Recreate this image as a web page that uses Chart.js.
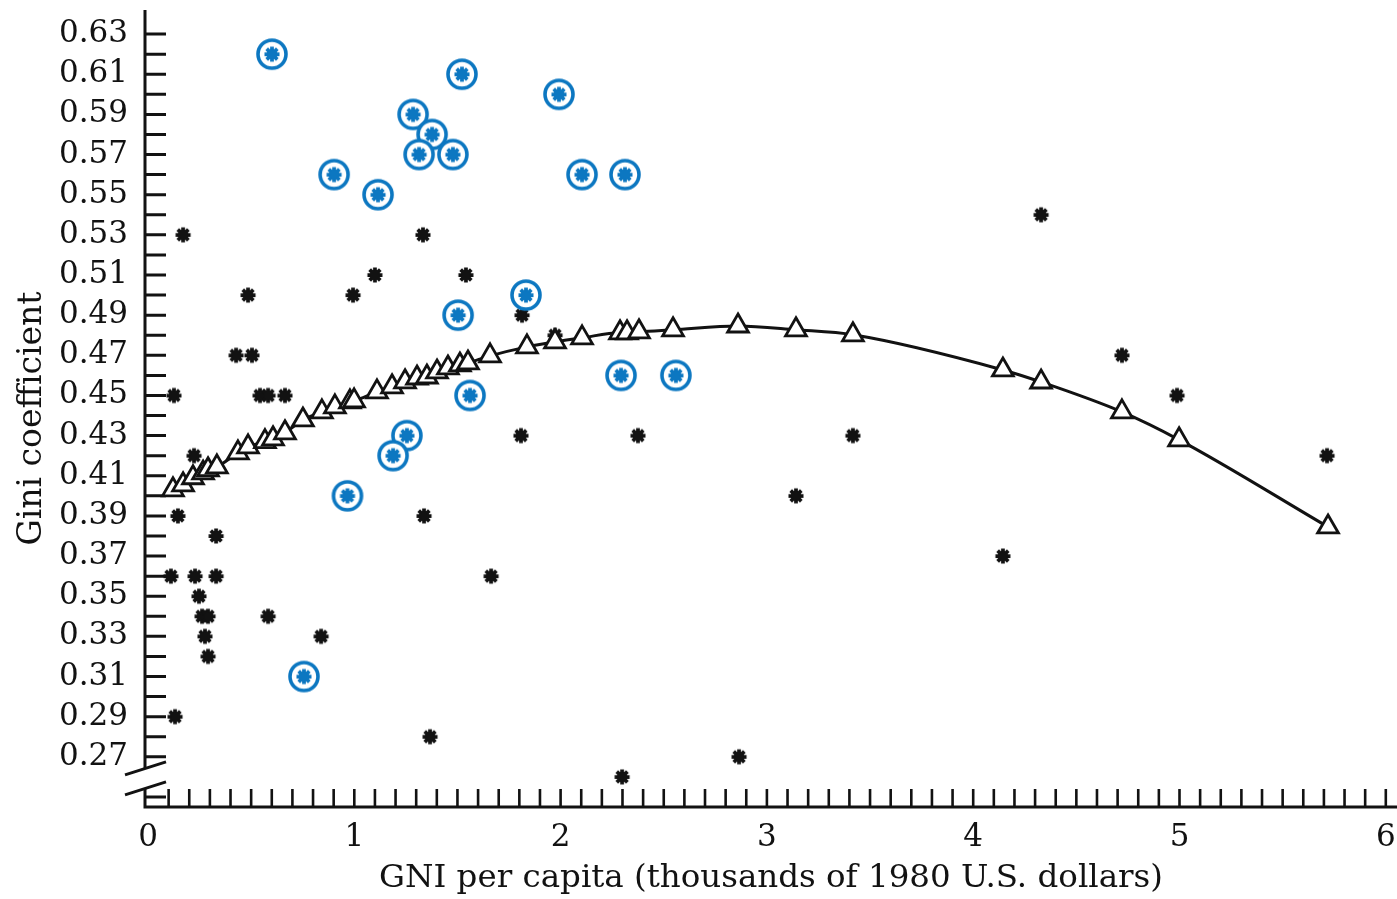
<!DOCTYPE html>
<html>
<head>
<meta charset="utf-8">
<title>Gini coefficient and GNI per capita</title>
<script src="https://cdn.jsdelivr.net/npm/chart.js@4.4.1/dist/chart.umd.min.js"></script>
<style>
  html, body { margin: 0; padding: 0; background: #fff; }
</style>
</head>
<body>
<canvas id="chart" width="1397" height="899"></canvas>
<script>
/* ================= DATA ================= */
// countries, plain markers
const starGni = [0.17, 0.126, 0.223, 0.145, 0.111, 0.228, 0.33, 0.33, 0.247, 0.262, 0.291, 0.276, 0.291, 0.131,
  0.582, 0.839, 0.427, 0.504, 0.485, 0.543, 0.582, 0.664, 0.994, 1.10, 1.333, 1.541, 1.338, 1.663, 1.367,
  1.808, 1.813, 1.973, 2.375, 2.298, 2.865, 3.141, 3.417, 4.144, 4.329, 4.721, 4.988, 5.715];
const starGini = [0.53, 0.45, 0.42, 0.39, 0.36, 0.36, 0.36, 0.38, 0.35, 0.34, 0.34, 0.33, 0.32, 0.29,
  0.34, 0.33, 0.47, 0.47, 0.50, 0.45, 0.45, 0.45, 0.50, 0.51, 0.53, 0.51, 0.39, 0.36, 0.28,
  0.43, 0.49, 0.48, 0.43, 0.26, 0.27, 0.40, 0.43, 0.37, 0.54, 0.47, 0.45, 0.42];

// countries, circled markers
const ringGni = [0.601, 1.522, 1.992, 1.285, 1.377, 1.314, 1.478, 0.902, 1.115, 2.104, 2.312,
  1.832, 1.503, 2.293, 2.559, 1.561, 1.255, 1.188, 0.967, 0.756];
const ringGini = [0.62, 0.61, 0.60, 0.59, 0.58, 0.57, 0.57, 0.56, 0.55, 0.56, 0.56,
  0.50, 0.49, 0.46, 0.46, 0.45, 0.43, 0.42, 0.40, 0.31];

// fitted values (triangles + curve)
const fitGni = [0.121, 0.170, 0.218, 0.267, 0.291, 0.334, 0.436, 0.485, 0.567, 0.606, 0.664, 0.751, 0.843,
  0.906, 0.979, 0.999, 1.110, 1.183, 1.246, 1.304, 1.352, 1.401, 1.454, 1.512, 1.551, 1.658, 1.837,
  1.973, 2.104, 2.288, 2.322, 2.380, 2.545, 2.860, 3.141, 3.417, 4.144, 4.329, 4.721, 4.998, 5.720];
const fitGini = [0.403, 0.4055, 0.409, 0.4114, 0.413, 0.4144, 0.4214, 0.4244, 0.427, 0.4284, 0.4314, 0.4378, 0.4418,
  0.4443, 0.4468, 0.4473, 0.4518, 0.4543, 0.4568, 0.4587, 0.4592, 0.4617, 0.4637, 0.4652, 0.4662, 0.4697, 0.4742,
  0.4767, 0.4787, 0.4812, 0.4812, 0.4817, 0.4827, 0.4846, 0.4827, 0.4802, 0.4627, 0.4567, 0.4418, 0.4279, 0.3845];

// tick labels
const xTickLabels = ['0', '1', '2', '3', '4', '5', '6'];
const yTickLabels = ['0.27', '0.29', '0.31', '0.33', '0.35', '0.37', '0.39', '0.41', '0.43', '0.45',
  '0.47', '0.49', '0.51', '0.53', '0.55', '0.57', '0.59', '0.61', '0.63'];

const yTitle = 'Gini coefficient';
const xTitle = 'GNI per capita (thousands of 1980 U.S. dollars)';

const BLUE = '#0c77c1';
const INK = '#121212';
const FONT = "'DejaVu Serif', 'Liberation Serif', serif";

function pairs(xs, ys){
    return xs.map((x, i) => ({ x: x, y: ys[i] }));
}

/* ================= MARKERS ================= */
function drawStar(ctx, cx, cy, r, color){
    ctx.strokeStyle = color;
    ctx.fillStyle = color;
    ctx.lineWidth = r * 0.5;
    ctx.beginPath();
    for(let k = 0; k < 4; k++){
        let a = k * Math.PI / 4;
        ctx.moveTo(cx - Math.cos(a) * r, cy - Math.sin(a) * r);
        ctx.lineTo(cx + Math.cos(a) * r, cy + Math.sin(a) * r);
    }
    ctx.stroke();
    ctx.beginPath();
    ctx.arc(cx, cy, r * 0.68, 0, Math.PI * 2);
    ctx.fill();
}

function starMarker(){
    let c = document.createElement('canvas');
    c.width = 18; c.height = 18;
    drawStar(c.getContext('2d'), 9, 9, 7.5, INK);
    return c;
}

function ringMarker(){
    let c = document.createElement('canvas');
    c.width = 36; c.height = 36;
    let ctx = c.getContext('2d');
    ctx.beginPath();
    ctx.arc(18, 18, 14, 0, Math.PI * 2);
    ctx.fillStyle = '#fff';
    ctx.fill();
    ctx.lineWidth = 3.6;
    ctx.strokeStyle = BLUE;
    ctx.stroke();
    drawStar(ctx, 18, 18, 7.5, BLUE);
    return c;
}

/* ================= AXES (inward ticks + break + y title) ================= */
const bookAxes = {
    id: 'bookAxes',
    beforeDatasetsDraw(chart){
        const ctx = chart.ctx;
        const xs = chart.scales.x, ys = chart.scales.y;
        const x0 = xs.left;
        const yb = ys.bottom;

        ctx.save();
        ctx.strokeStyle = INK;
        ctx.lineWidth = 3;
        ctx.beginPath();
        ctx.moveTo(x0, ys.top);
        ctx.lineTo(x0, yb);
        ctx.moveTo(x0 - 1.5, yb);
        ctx.lineTo(chart.width, yb);

        // y ticks every 0.01 (0.26 sits in the break)
        for(let v = 25; v <= 63; v++){
            if(v === 26) continue;
            let y = ys.getPixelForValue(v / 100);
            ctx.moveTo(x0, y);
            ctx.lineTo(x0 + 21, y);
        }
        ctx.stroke();

        // x ticks every 0.1
        ctx.lineWidth = 2.6;
        ctx.beginPath();
        for(let i = 1; i <= 60; i++){
            let x = xs.getPixelForValue(i / 10);
            ctx.moveTo(x, yb);
            ctx.lineTo(x, yb - 18);
        }
        ctx.stroke();

        // axis break
        const yk = ys.getPixelForValue(0.26);
        ctx.fillStyle = '#fff';
        ctx.beginPath();
        ctx.moveTo(x0 - 20, yk - 2);
        ctx.lineTo(x0 + 21, yk - 15);
        ctx.lineTo(x0 + 21, yk + 5);
        ctx.lineTo(x0 - 20, yk + 18);
        ctx.closePath();
        ctx.fill();
        ctx.lineWidth = 3;
        ctx.beginPath();
        ctx.moveTo(x0 - 20, yk - 2);
        ctx.lineTo(x0 + 21, yk - 15);
        ctx.moveTo(x0 - 20, yk + 18);
        ctx.lineTo(x0 + 21, yk + 5);
        ctx.stroke();

        // y title, a bit below the middle of the axis like the book
        ctx.translate(32, ys.getPixelForValue(0.4385));
        ctx.rotate(-Math.PI / 2);
        ctx.fillStyle = INK;
        ctx.font = '33px ' + FONT;
        ctx.textAlign = 'center';
        ctx.textBaseline = 'middle';
        ctx.fillText(yTitle, 0, 0);
        ctx.restore();
    }
};

/* ================= CHART ================= */
const X0 = 148, XUNIT = 206.3;   // pixel of GNI 0, pixels per 1000 $

new Chart(document.getElementById('chart'), {
    type: 'scatter',
    data: {
        datasets: [
            {
                label: 'Fitted',
                data: pairs(fitGni, fitGini),
                showLine: true,
                cubicInterpolationMode: 'monotone',
                borderColor: INK,
                borderWidth: 3,
                pointStyle: 'triangle',
                pointRadius: 12,
                pointBackgroundColor: '#fff',
                pointBorderColor: INK,
                pointBorderWidth: 2.8
            },
            {
                label: 'Circled',
                data: pairs(ringGni, ringGini),
                pointStyle: ringMarker(),
                pointRadius: 16
            },
            {
                label: 'Countries',
                data: pairs(starGni, starGini),
                pointStyle: starMarker(),
                pointRadius: 9
            }
        ]
    },
    options: {
        responsive: false,
        animation: false,
        layout: { autoPadding: false, padding: { top: 10, right: 0, bottom: 0, left: 0 } },
        plugins: { legend: { display: false }, tooltip: { enabled: false } },
        scales: {
            x: {
                type: 'linear',
                min: (145 - X0) / XUNIT,
                max: (1397 - X0) / XUNIT,
                grid: { display: false, drawTicks: false },
                border: { display: false },
                afterBuildTicks: s => { s.ticks = xTickLabels.map(t => ({ value: Number(t) })); },
                afterFit: s => { s.height = 92; s.paddingLeft = 0; s.paddingRight = 0; },
                ticks: {
                    autoSkip: false,
                    maxRotation: 0,
                    padding: 12,
                    color: INK,
                    font: { family: FONT, size: 31 },
                    callback: (v, i) => xTickLabels[i]
                },
                title: {
                    display: true,
                    text: xTitle,
                    color: INK,
                    font: { family: FONT, size: 32.5 },
                    padding: { top: 0, bottom: 1 }
                }
            },
            y: {
                type: 'linear',
                min: 0.245,
                max: 0.642,
                grid: { display: false, drawTicks: false },
                border: { display: false },
                afterBuildTicks: s => { s.ticks = yTickLabels.map(t => ({ value: Number(t) })); },
                afterFit: s => { s.width = 145; s.paddingTop = 0; s.paddingBottom = 0; },
                ticks: {
                    autoSkip: false,
                    padding: 17,
                    color: INK,
                    font: { family: FONT, size: 31 },
                    callback: (v, i) => yTickLabels[i]
                }
            }
        }
    },
    plugins: [bookAxes]
});
</script>
</body>
</html>
